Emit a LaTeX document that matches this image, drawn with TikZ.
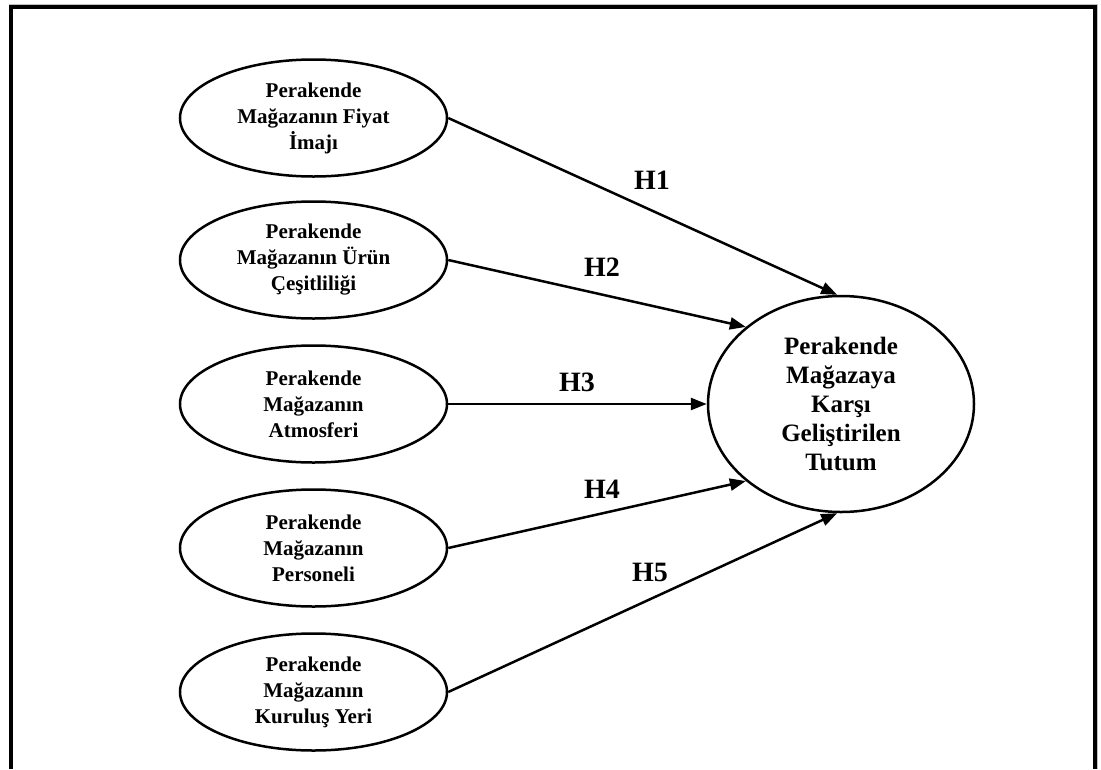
\documentclass[tikz,border=0pt]{standalone}
\usepackage{fontspec}
\setmainfont{Liberation Serif}
\usetikzlibrary{shapes.geometric,arrows.meta}
\tikzset{
  src/.style={draw, ellipse, line width=2.5pt, minimum width=267pt, minimum height=117pt,
    inner sep=0pt, align=center, font=\bfseries\fontsize{21}{26}\selectfont},
  tgt/.style={draw, ellipse, line width=2.5pt, minimum width=266pt, minimum height=216pt,
    inner sep=0pt, align=center, font=\bfseries\fontsize{25}{29}\selectfont},
  hyp/.style={-{Triangle[length=16pt,width=12pt]}, line width=2.5pt},
  hlab/.style={font=\bfseries\fontsize{28}{30}\selectfont, inner sep=0pt},
  frame/.style={line width=4pt}
}
\begin{document}
\begin{tikzpicture}[x=1pt,y=-1pt]
\useasboundingbox (0,0) rectangle (1101,769);
\fill[white] (0,0) rectangle (1101,769);
% frame
\draw[black!25, line width=1pt] (9,4) -- (1097.5,4) -- (1097.5,769);
\draw[frame] (11,769) -- (11,6.5) -- (1094.5,6.5) -- (1094.5,769);
% source ellipses
\node[src] (e1) at (313.5,118) {Perakende\\Mağazanın Fiyat\\İmajı};
\node[src] (e2) at (313.5,260) {Perakende\\Mağazanın Ürün\\Çeşitliliği};
\node[src] (e3) at (313.5,404) {Perakende\\Mağazanın\\Atmosferi};
\node[src] (e4) at (313.5,548) {Perakende\\Mağazanın\\Personeli};
\node[src] (e5) at (313.5,692) {Perakende\\Mağazanın\\Kuruluş Yeri};
% target
\node[tgt] (t) at (841,404) {Perakende\\Mağazaya\\Karşı\\Geliştirilen\\Tutum};
% arrows
\draw[hyp] (e1.east) -- (t.92);
\draw[hyp] (e2.east) -- (t.141);
\draw[hyp] (e3.east) -- (t.west);
\draw[hyp] (e4.east) -- (t.219);
\draw[hyp] (e5.east) -- (t.268);
% labels
\node[hlab] (h1) at (652,180) {H1};
\node[hlab] (h2) at (602,267) {H2};
\node[hlab] (h3) at (577,382) {H3};
\node[hlab] (h4) at (602,489) {H4};
\node[hlab] (h5) at (650,572) {H5};
\end{tikzpicture}
\end{document}
